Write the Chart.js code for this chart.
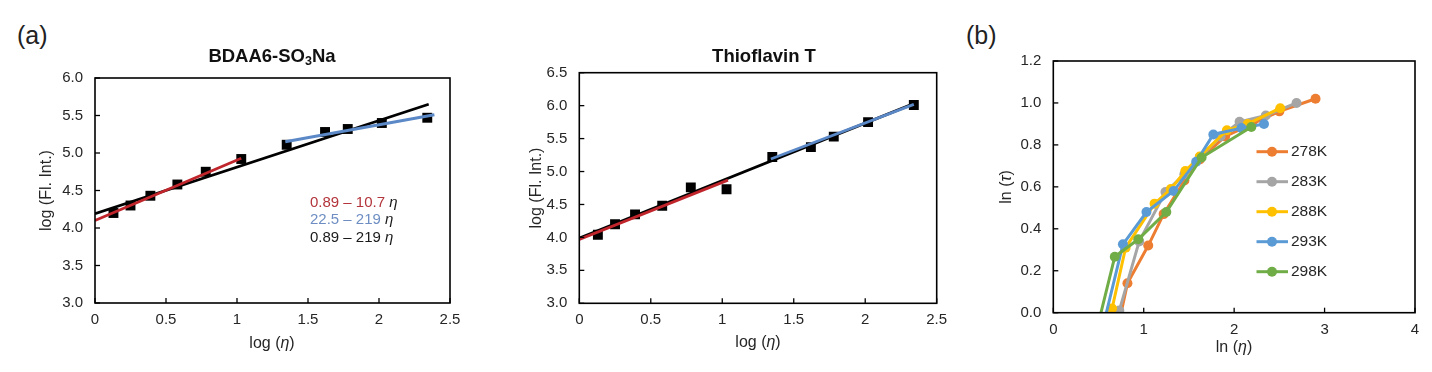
<!DOCTYPE html>
<html><head><meta charset="utf-8">
<script src="https://cdn.jsdelivr.net/npm/chart.js@4.4.1/dist/chart.umd.min.js"></script>
<style>
html,body{margin:0;padding:0;background:#fff;width:1432px;height:372px;overflow:hidden;}
.p{position:absolute;top:0;height:372px;}
.lbl{position:absolute;font-family:"Liberation Sans",Arial,sans-serif;font-size:25px;color:#222;line-height:1;}
</style></head><body>
<div class="lbl" style="left:17px;top:23px">(a)</div>
<div class="lbl" style="left:966px;top:23px">(b)</div>
<div class="p" style="left:0;width:480px"><canvas id="c1"></canvas></div>
<div class="p" style="left:490px;width:470px"><canvas id="c2"></canvas></div>
<div class="p" style="left:960px;width:472px"><canvas id="c3"></canvas></div>
<script>
const FONT = '"Liberation Sans", Arial, sans-serif';
const TXT = '#262626';

// ---------- Panel (a) data ----------
const logEta    = [0.13, 0.25, 0.39, 0.58, 0.78, 1.03, 1.35, 1.62, 1.78, 2.02, 2.34];
const logFlBDAA = [4.20, 4.30, 4.43, 4.58, 4.75, 4.92, 5.11, 5.28, 5.32, 5.40, 5.47];
const logFlThT  = [4.04, 4.20, 4.35, 4.48, 4.76, 4.73, 5.22, 5.37, 5.53, 5.75, 6.01];

const bdaaRedX = [0, 1.03],    bdaaRedY = [4.10, 4.93];
const bdaaBlueX = [1.34, 2.39], bdaaBlueY = [5.15, 5.51];
const bdaaBlackX = [0, 2.35],  bdaaBlackY = [4.19, 5.65];
const thtRedX = [0, 1.04],     thtRedY = [3.97, 4.87];
const thtBlueX = [1.34, 2.34], thtBlueY = [5.19, 6.02];
const thtBlackX = [0, 2.34],   thtBlackY = [3.99, 6.03];

const xTicksA = [0, 0.5, 1, 1.5, 2, 2.5];
const yTicksBDAA = [3.0, 3.5, 4.0, 4.5, 5.0, 5.5, 6.0];
const yTicksThT = [3.0, 3.5, 4.0, 4.5, 5.0, 5.5, 6.0, 6.5];
const fitRanges = ['0.89 \u2013 10.7 ', '22.5 \u2013 219 ', '0.89 \u2013 219 '];

// ---------- Panel (b) data ----------
const temps = ['278K', '283K', '288K', '293K', '298K'];
const lnEta278 = [0.74, 0.82, 1.05, 1.22, 1.45, 1.62, 1.90, 2.20, 2.50, 2.90];
const lnTau278 = [-0.02, 0.14, 0.32, 0.47, 0.63, 0.73, 0.84, 0.90, 0.96, 1.02];
const lnEta283 = [0.73, 0.95, 1.24, 1.45, 1.62, 1.85, 2.06, 2.35, 2.69];
const lnTau283 = [0.01, 0.34, 0.575, 0.66, 0.74, 0.84, 0.91, 0.94, 1.00];
const lnEta288 = [0.65, 0.80, 1.12, 1.30, 1.46, 1.62, 1.92, 2.15, 2.51];
const lnTau288 = [0.02, 0.31, 0.52, 0.59, 0.675, 0.745, 0.87, 0.90, 0.975];
const lnEta293 = [0.57, 0.77, 1.03, 1.33, 1.58, 1.77, 2.08, 2.33];
const lnTau293 = [-0.03, 0.326, 0.48, 0.58, 0.72, 0.85, 0.88, 0.90];
const lnEta298 = [0.51, 0.68, 0.94, 1.25, 1.64, 2.19];
const lnTau298 = [-0.03, 0.267, 0.35, 0.48, 0.74, 0.885];
const xTicksB = [0, 1, 2, 3, 4];
const yTicksB = [0, 0.2, 0.4, 0.6, 0.8, 1.0, 1.2];

const colorsB = ['#ED7D31', '#A5A5A5', '#FFC000', '#5B9BD5', '#70AD47'];
const RED = '#C0252C', BLUE = '#5B88C6', BLACK = '#000000';

const pts = (xs, ys) => xs.map((x, i) => ({x, y: ys[i]}));

function drawRich(ctx, segs, x, y, align) {
  let w = 0;
  segs.forEach(s => { ctx.font = s.f; s.w = ctx.measureText(s.t).width; w += s.w; });
  let cx = align === 'center' ? x - w / 2 : x;
  ctx.textBaseline = 'middle'; ctx.textAlign = 'left';
  segs.forEach(s => { ctx.font = s.f; ctx.fillStyle = s.c || TXT; ctx.fillText(s.t, cx, y + (s.dy || 0)); cx += s.w; });
}

const framePlugin = {
  id: 'frame',
  afterDraw(chart) {
    const {ctx, chartArea: a, scales} = chart;
    ctx.save();
    ctx.strokeStyle = '#000'; ctx.lineWidth = 1.6;
    ctx.strokeRect(a.left, a.top, a.right - a.left, a.bottom - a.top);
    ctx.lineWidth = 1.3;
    scales.x.ticks.forEach(t => {
      const px = scales.x.getPixelForValue(t.value);
      ctx.beginPath(); ctx.moveTo(px, a.bottom); ctx.lineTo(px, a.bottom - 5); ctx.stroke();
    });
    scales.y.ticks.forEach(t => {
      const py = scales.y.getPixelForValue(t.value);
      ctx.beginPath(); ctx.moveTo(a.left, py); ctx.lineTo(a.left + 5, py); ctx.stroke();
    });
    ctx.restore();
  }
};

function overlay(fn) { return { id: 'ov', afterDraw(chart) { const c = chart.ctx; c.save(); fn(chart, c); c.restore(); } }; }

function scaleOpts(ticksArr, fmt, size, isX, min, max) {
  return {
    type: 'linear', min, max,
    grid: { display: false, drawTicks: false },
    border: { display: false },
    afterBuildTicks: s => { s.ticks = ticksArr.map(v => ({value: v})); },
    afterFit: s => { if (isX) s.height = size; else s.width = size; },
    ticks: { color: TXT, font: { family: FONT, size: 15 }, padding: isX ? 8 : 12,
             callback: v => fmt(v), autoSkip: false, maxRotation: 0 }
  };
}

function lineDs(xs, ys, color, order) {
  return { data: pts(xs, ys), showLine: true, borderColor: color, borderWidth: 2.8,
           pointRadius: 0, order };
}
function sqDs(xs, ys) {
  return { data: pts(xs, ys), showLine: false, pointStyle: 'rect', pointRadius: 7,
           backgroundColor: '#000', borderColor: '#000', borderWidth: 0, order: 3 };
}

const common = {
  responsive: true, maintainAspectRatio: false, animation: false, devicePixelRatio: 1,
  plugins: { legend: { display: false }, tooltip: { enabled: false }, title: { display: false } }
};

const f1 = v => v.toFixed(1);
const f0 = v => String(v);
const R16 = '16px ' + FONT, I16 = 'italic 16px ' + FONT;

// Chart 1: BDAA6-SO3Na
new Chart(document.getElementById('c1'), {
  type: 'scatter',
  data: { datasets: [
    lineDs(bdaaRedX, bdaaRedY, RED, 0),
    lineDs(bdaaBlueX, bdaaBlueY, BLUE, 1),
    lineDs(bdaaBlackX, bdaaBlackY, BLACK, 2),
    sqDs(logEta, logFlBDAA)
  ]},
  options: Object.assign({}, common, {
    layout: { padding: { left: 0, right: 30, top: 78, bottom: 0 } },
    scales: { x: scaleOpts(xTicksA, f0, 69, true, 0, 2.5), y: scaleOpts(yTicksBDAA, f1, 95, false, 3, 6) }
  }),
  plugins: [framePlugin, overlay((ch, ctx) => {
    const B18 = 'bold 18.5px ' + FONT;
    drawRich(ctx, [{t: 'BDAA6-SO', f: B18, c: '#111'}, {t: '3', f: 'bold 12.5px ' + FONT, dy: 5, c: '#111'}, {t: 'Na', f: B18, c: '#111'}], 272, 57, 'center');
    drawRich(ctx, [{t: 'log (', f: R16}, {t: '\u03B7', f: I16}, {t: ')', f: R16}], 272, 344, 'center');
    ctx.translate(46.5, 190.5); ctx.rotate(-Math.PI / 2);
    drawRich(ctx, [{t: 'log (Fl. Int.)', f: R16}], 0, 0, 'center');
    ctx.setTransform(1, 0, 0, 1, 0, 0);
    const cols = ['#B3343B', '#6E8EC3', '#1a1a1a'];
    fitRanges.forEach((r, i) => {
      drawRich(ctx, [{t: r, f: '15px ' + FONT, c: cols[i]}, {t: '\u03B7', f: 'italic 15px ' + FONT, c: '#1a1a1a'}], 310, 203 + i * 17.3, 'left');
    });
  })]
});

// Chart 2: Thioflavin T
new Chart(document.getElementById('c2'), {
  type: 'scatter',
  data: { datasets: [
    lineDs(thtRedX, thtRedY, RED, 0),
    lineDs(thtBlueX, thtBlueY, BLUE, 1),
    lineDs(thtBlackX, thtBlackY, BLACK, 2),
    sqDs(logEta, logFlThT)
  ]},
  options: Object.assign({}, common, {
    layout: { padding: { left: 0, right: 23.3, top: 72.7, bottom: 0 } },
    scales: { x: scaleOpts(xTicksA, f0, 68.7, true, 0, 2.5), y: scaleOpts(yTicksThT, f1, 89.3, false, 3, 6.5) }
  }),
  plugins: [framePlugin, overlay((ch, ctx) => {
    drawRich(ctx, [{t: 'Thioflavin T', f: 'bold 18.5px ' + FONT, c: '#111'}], 274, 57, 'center');
    drawRich(ctx, [{t: 'log (', f: R16}, {t: '\u03B7', f: I16}, {t: ')', f: R16}], 268, 343, 'center');
    ctx.translate(46.5, 188); ctx.rotate(-Math.PI / 2);
    drawRich(ctx, [{t: 'log (Fl. Int.)', f: R16}], 0, 0, 'center');
  })]
});

// Chart 3: ln(tau) vs ln(eta)
const bX = [lnEta278, lnEta283, lnEta288, lnEta293, lnEta298];
const bY = [lnTau278, lnTau283, lnTau288, lnTau293, lnTau298];
new Chart(document.getElementById('c3'), {
  type: 'scatter',
  data: { datasets: temps.map((t, i) => ({
    label: t, data: pts(bX[i], bY[i]), showLine: true, borderColor: colorsB[i], borderWidth: 3,
    backgroundColor: colorsB[i], pointBackgroundColor: colorsB[i], pointBorderWidth: 0,
    pointRadius: 5, order: 4 - i
  }))},
  options: Object.assign({}, common, {
    layout: { padding: { left: 0, right: 17, top: 61, bottom: 0 } },
    scales: { x: scaleOpts(xTicksB, f0, 59.3, true, 0, 4), y: scaleOpts(yTicksB, f1, 93.3, false, 0, 1.2) }
  }),
  plugins: [framePlugin, overlay((ch, ctx) => {
    drawRich(ctx, [{t: 'ln (', f: R16}, {t: '\u03B7', f: I16}, {t: ')', f: R16}], 274, 348, 'center');
    ctx.save();
    ctx.translate(46.5, 187); ctx.rotate(-Math.PI / 2);
    drawRich(ctx, [{t: 'ln (', f: R16}, {t: '\u03C4', f: I16}, {t: ')', f: R16}], 0, 0, 'center');
    ctx.restore();
    ch.data.datasets.forEach((d, i) => {
      const y = 151.7 + i * 30;
      ctx.strokeStyle = d.borderColor; ctx.lineWidth = 3;
      ctx.beginPath(); ctx.moveTo(296.5, y); ctx.lineTo(328, y); ctx.stroke();
      ctx.fillStyle = d.borderColor;
      ctx.beginPath(); ctx.arc(312, y, 5, 0, Math.PI * 2); ctx.fill();
      drawRich(ctx, [{t: d.label, f: '15.5px ' + FONT}], 331, y, 'left');
    });
  })]
});
</script>
</body></html>
